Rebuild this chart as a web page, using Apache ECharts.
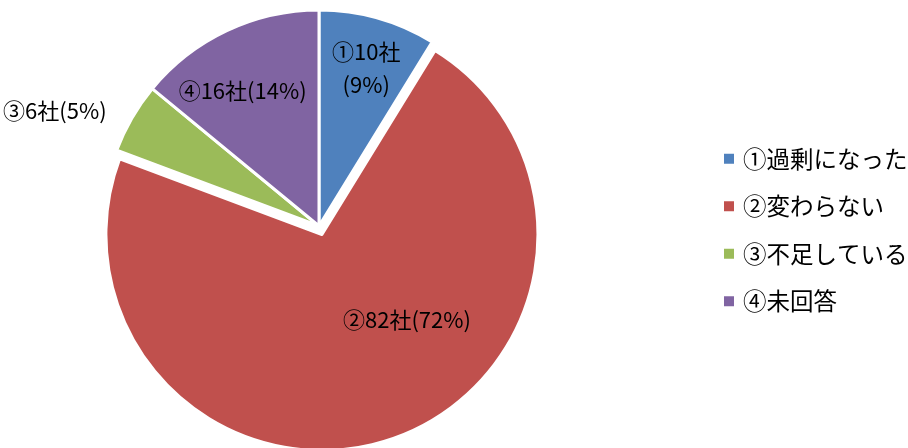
<!DOCTYPE html>
<html>
<head>
<meta charset="utf-8">
<style>
  html, body { margin: 0; padding: 0; background: #fff; }
  #main { width: 908px; height: 448px; }
</style>
<script src="https://cdn.jsdelivr.net/npm/echarts@6/dist/echarts.min.js"></script>
</head>
<body>
<div id="main"></div>
<script>
// 回答カテゴリ
var categories = ['①過剰になった', '②変わらない', '③不足している', '④未回答'];
var marks = ['①', '②', '③', '④'];
// 社数
var counts = [10, 82, 6, 16];
var colors = ['#4F81BD', '#C0504D', '#9BBB59', '#8064A2'];
// ラベル位置の微調整 (dx, dy)
var labelShift = [[17, -51], [49, -20], [-168, -60], [-29, -35]];

var font = '"Noto Sans CJK JP", "Noto Sans", sans-serif';
var chart = echarts.init(document.getElementById('main'));

var data = categories.map(function (name, i) {
  return {
    name: name,
    value: counts[i],
    selected: i === 1,
    itemStyle: { color: colors[i] }
  };
});

var option = {
  animation: false,
  legend: {
    orient: 'vertical',
    left: 722,
    top: 147,
    padding: 0,
    icon: 'rect',
    itemWidth: 12,
    itemHeight: 12,
    itemGap: 24,
    selectedMode: false,
    textStyle: { fontSize: 23.5, color: '#000', fontFamily: font, padding: [0, 0, 0, 3] },
    data: categories
  },
  series: [{
    type: 'pie',
    center: [319, 226],
    radius: 216,
    startAngle: 90,
    clockwise: true,
    selectedMode: 'single',
    selectedOffset: 9,
    percentPrecision: 0,
    avoidLabelOverlap: false,
    itemStyle: { borderColor: '#fff', borderWidth: 3 },
    label: {
      show: true,
      position: 'inside',
      color: '#000',
      fontSize: 22,
      lineHeight: 33,
      fontFamily: font,
      formatter: function (p) {
        var i = p.dataIndex;
        var head = marks[i] + counts[i] + '社';
        return head + (i === 0 ? '\n' : '') + '(' + p.percent + '%)';
      }
    },
    labelLine: { show: false },
    emphasis: { disabled: true },
    labelLayout: function (p) {
      return { dx: labelShift[p.dataIndex][0], dy: labelShift[p.dataIndex][1] };
    },
    data: data
  }]
};

chart.setOption(option);
</script>
</body>
</html>
